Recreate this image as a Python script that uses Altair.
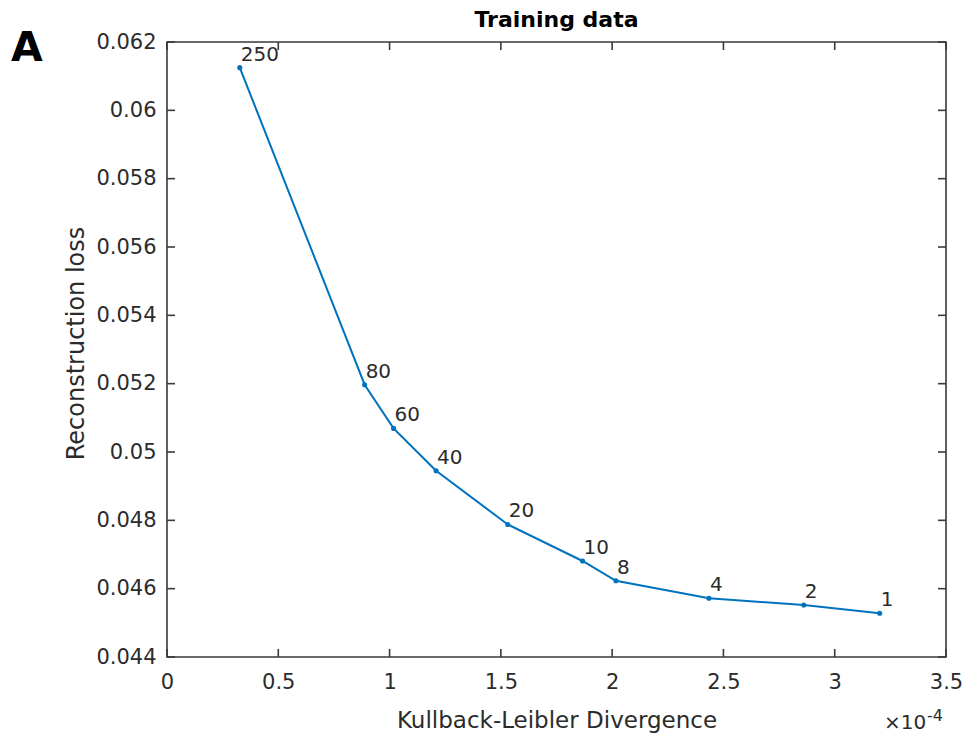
import altair as alt
import pandas as pd

# Beta values annotated on each point, with the KL divergence (x 1e-4) and reconstruction loss
beta_labels = ["250", "80", "60", "40", "20", "10", "8", "4", "2", "1"]
kl_divergence = [0.327, 0.888, 1.018, 1.209, 1.531, 1.867, 2.017, 2.435, 2.861, 3.202]
recon_loss = [0.06125, 0.05197, 0.05069, 0.04945, 0.04788, 0.04681, 0.04623, 0.04572, 0.04552, 0.04528]

x_ticks = [0, 0.5, 1, 1.5, 2, 2.5, 3, 3.5]
y_ticks = [0.044, 0.046, 0.048, 0.05, 0.052, 0.054, 0.056, 0.058, 0.06, 0.062]

W, H = 779, 615
AXIS = "#3a3a3a"
TEXT = "#2b2b2b"
LINE = "#0072BD"
FONT = "DejaVu Sans"

df = pd.DataFrame({"kl": kl_divergence, "loss": recon_loss, "beta": beta_labels})
xt = pd.DataFrame({"kl": x_ticks})
yt = pd.DataFrame({"loss": y_ticks})

x_scale = alt.Scale(domain=[0, 3.5], nice=False, zero=False)
y_scale = alt.Scale(domain=[0.044, 0.062], nice=False, zero=False)

x_axis = alt.Axis(
    values=x_ticks, format="~g", ticks=False, grid=False, domain=False,
    labelFontSize=21, labelColor=TEXT, labelPadding=14, labelFlush=False,
    labelOverlap=False, title="Kullback-Leibler Divergence", titleFontSize=23,
    titleFontWeight="normal", titleColor=TEXT, titleX=W / 2, titleY=70,
    titleBaseline="alphabetic", titleAlign="center",
)
y_axis = alt.Axis(
    values=y_ticks, format="~g", ticks=False, grid=False, domain=False,
    labelFontSize=21, labelColor=TEXT, labelPadding=11, labelFlush=False,
    labelOverlap=False, title="Reconstruction loss", titleFontSize=24,
    titleFontWeight="normal", titleColor=TEXT, titleX=-84, titleY=301,
    titleBaseline="alphabetic", titleAlign="center", titleAngle=-90,
)

base = alt.Chart(df)

line = base.mark_line(color=LINE, strokeWidth=2).encode(
    x=alt.X("kl:Q", scale=x_scale, axis=x_axis),
    y=alt.Y("loss:Q", scale=y_scale, axis=y_axis),
    order=alt.Order("kl:Q"),
)

dots = base.mark_point(filled=True, color=LINE, size=26, opacity=1).encode(
    x="kl:Q", y="loss:Q"
)

labels = base.mark_text(
    align="left", baseline="alphabetic", dx=1, dy=-7, fontSize=20, color=TEXT
).encode(x="kl:Q", y="loss:Q", text="beta:N")

# Inward ticks on all four sides of the box
tick_style = dict(color=AXIS, strokeWidth=1.6)
bottom_ticks = alt.Chart(xt).mark_rule(**tick_style).encode(
    x="kl:Q", y=alt.value(H), y2=alt.value(H - 8)
)
top_ticks = alt.Chart(xt).mark_rule(**tick_style).encode(
    x="kl:Q", y=alt.value(0), y2=alt.value(8)
)
left_ticks = alt.Chart(yt).mark_rule(**tick_style).encode(
    y="loss:Q", x=alt.value(0), x2=alt.value(8)
)
right_ticks = alt.Chart(yt).mark_rule(**tick_style).encode(
    y="loss:Q", x=alt.value(W), x2=alt.value(W - 8)
)

# Chart title, panel letter and the axis multiplier
title_text = alt.Chart(pd.DataFrame({"t": ["Training data"]})).mark_text(
    align="center", baseline="alphabetic", fontSize=22, fontWeight="bold", color="#000000"
).encode(text="t:N", x=alt.value(W / 2), y=alt.value(27 - 42))

panel_letter = alt.Chart(pd.DataFrame({"t": ["A"]})).mark_text(
    align="left", baseline="alphabetic", fontSize=41, fontWeight="bold", color="#000000"
).encode(text="t:N", x=alt.value(11 - 167), y=alt.value(61 - 42))

mult_base = alt.Chart(pd.DataFrame({"t": ["\u00d710"]})).mark_text(
    align="left", baseline="alphabetic", fontSize=20, color=TEXT
).encode(text="t:N", x=alt.value(884 - 167), y=alt.value(729 - 42))

mult_exp = alt.Chart(pd.DataFrame({"t": ["-4"]})).mark_text(
    align="left", baseline="alphabetic", fontSize=16, color=TEXT
).encode(text="t:N", x=alt.value(927 - 167), y=alt.value(721 - 42))

chart = alt.layer(
    line, dots, labels, bottom_ticks, top_ticks, left_ticks, right_ticks,
    title_text, panel_letter, mult_base, mult_exp,
).properties(
    width=W,
    height=H,
    autosize=alt.AutoSizeParams(type="none"),
    padding={"left": 167, "top": 42, "right": 22, "bottom": 83},
).configure(
    font=FONT,
    background="white",
).configure_view(
    stroke=AXIS, strokeWidth=1.6,
)

chart.save("out.html", embed_options={"renderer": "svg", "actions": False})
